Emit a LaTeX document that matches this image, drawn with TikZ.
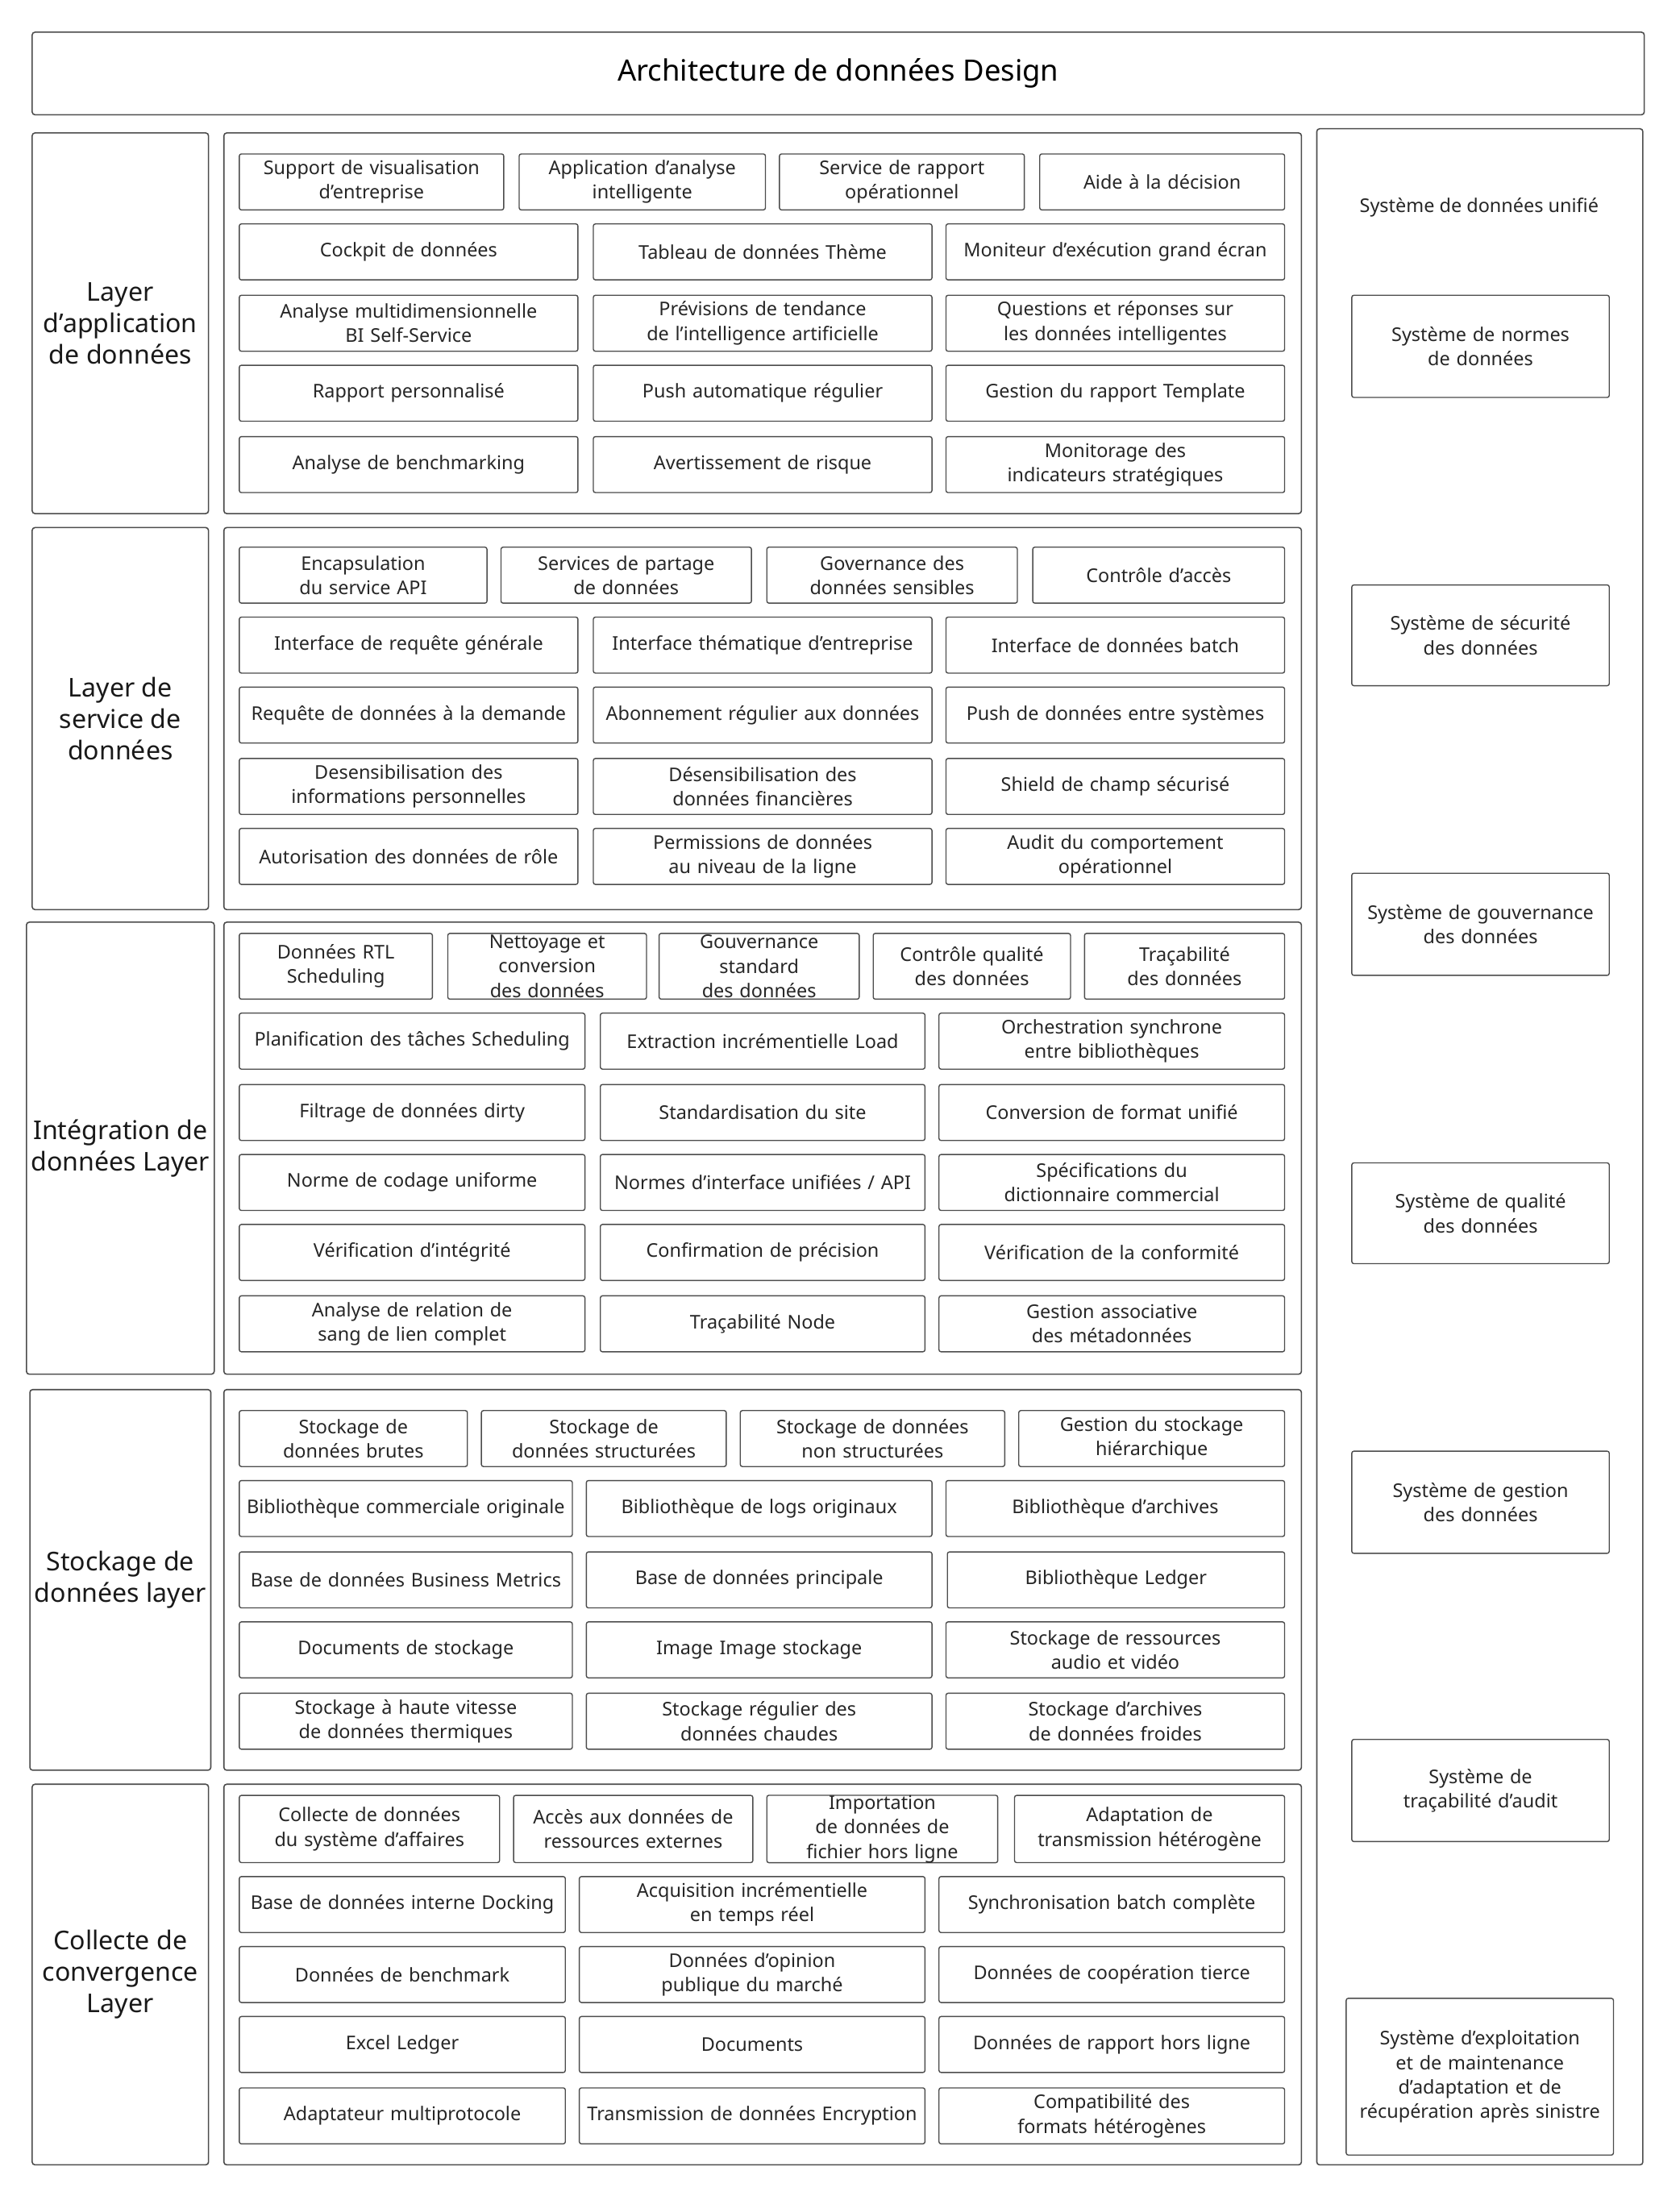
\documentclass[tikz,border=0pt]{standalone}
\usepackage{fontspec}
\setmainfont{Noto Sans}
\hyphenpenalty=10000
\exhyphenpenalty=10000
\begin{document}
\begin{tikzpicture}[x=1pt,y=-1pt,
  frame/.style={draw=black!70,line width=0.9pt,rounded corners=2pt},
  cell/.style={draw=black!70,line width=0.8pt,rounded corners=1.5pt,align=center,inner sep=0pt,
    font={\fontsize{13.5}{17.5}\selectfont\hyphenpenalty=10000\relax},text=black!85},
  lbl/.style={align=center,font=\fontsize{18.5}{22.5}\selectfont,text=black!90}]
\newcommand\bx[6]{\node[cell,minimum width={#4-#2},minimum height={#5-#3},text width={#4-#2-10}] (#1) at ({(#2+#4)/2},{(#3+#5)/2}) {#6};}
\newcommand\fr[6]{\node[#6,frame,minimum width={#4-#2},minimum height={#5-#3},inner sep=0pt] (#1) at ({(#2+#4)/2},{(#3+#5)/2}) {};}
\useasboundingbox[fill=white] (0,0) rectangle (1200,1575);
% title
\node[frame,minimum width=1152,minimum height=59,font=\fontsize{21}{26}\selectfont] (title) at (599,52.5) {Architecture de données Design};
% left labels
\node[frame,lbl,minimum width=126,minimum height=272] (L1) at (86,231) {Layer\\d'application\\de données};
\node[frame,lbl,minimum width=126,minimum height=273] (L2) at (86,513.5) {Layer de\\service de\\données};
\node[frame,lbl,minimum width=126,minimum height=323] (L3) at (86,820.5) {Intégration de\\données Layer};
\node[frame,lbl,minimum width=126,minimum height=272] (L4) at (86,1129) {Stockage de\\données layer};
\node[frame,lbl,minimum width=126,minimum height=272] (L5) at (86,1411) {Collecte de\\convergence\\Layer};
% middle containers
\fr{M1}{160}{95}{930}{367}{}
\fr{M2}{160}{377}{930}{650}{}
\fr{M3}{160}{659}{930}{982}{}
\fr{M4}{160}{993}{930}{1265}{}
\fr{M5}{160}{1275}{930}{1547}{}
% right
\fr{R}{941}{92}{1174}{1547}{}
\node[font=\fontsize{13.5}{17.5}\selectfont,text=black!85] (r0) at (1057,148) {Système de données unifié};
\bx{r1}{966}{211}{1150}{284}{Système de normes de données}
\bx{r2}{966}{418}{1150}{490}{Système de sécurité des données}
\bx{r3}{966}{624}{1150}{697}{Système de gouvernance des données}
\bx{r4}{966}{831}{1150}{903}{Système de qualité des données}
\bx{r5}{966}{1037}{1150}{1110}{Système de gestion des données}
\bx{r6}{966}{1243}{1150}{1316}{Système de traçabilité d'audit}
\bx{r7}{962}{1428}{1153}{1540}{Système d'exploitation et de maintenance d'adaptation et de récupération après sinistre}
% section 1
\bx{a1}{171}{110}{360}{150}{Support de visualisation d'entreprise}
\bx{a2}{371}{110}{547}{150}{Application d'analyse intelligente}
\bx{a3}{557}{110}{732}{150}{Service de rapport opérationnel}
\bx{a4}{743}{110}{918}{150}{Aide à la décision}
\bx{a5}{171}{160}{413}{200}{Cockpit de données}
\bx{a6}{424}{160}{666}{200}{Tableau de données Thème}
\bx{a7}{676}{160}{918}{200}{Moniteur d'exécution grand écran}
\bx{a8}{171}{211}{413}{251}{Analyse multidimensionnelle BI Self-Service}
\bx{a9}{424}{211}{666}{251}{Prévisions de tendance de l'intelligence artificielle}
\bx{a10}{676}{211}{918}{251}{Questions et réponses sur les données intelligentes}
\bx{a11}{171}{261}{413}{301}{Rapport personnalisé}
\bx{a12}{424}{261}{666}{301}{Push automatique régulier}
\bx{a13}{676}{261}{918}{301}{Gestion du rapport Template}
\bx{a14}{171}{312}{413}{352}{Analyse de benchmarking}
\bx{a15}{424}{312}{666}{352}{Avertissement de risque}
\bx{a16}{676}{312}{918}{352}{Monitorage des indicateurs stratégiques}
% section 2
\bx{b1}{171}{391}{348}{431}{Encapsulation du service API}
\bx{b2}{358}{391}{537}{431}{Services de partage de données}
\bx{b3}{548}{391}{727}{431}{Governance des données sensibles}
\bx{b4}{738}{391}{918}{431}{Contrôle d'accès}
\bx{b5}{171}{441}{413}{481}{Interface de requête générale}
\bx{b6}{424}{441}{666}{481}{Interface thématique d'entreprise}
\bx{b7}{676}{441}{918}{481}{Interface de données batch}
\bx{b8}{171}{491}{413}{531}{Requête de données à la demande}
\bx{b9}{424}{491}{666}{531}{Abonnement régulier aux données}
\bx{b10}{676}{491}{918}{531}{Push de données entre systèmes}
\bx{b11}{171}{542}{413}{582}{Desensibilisation des informations personnelles}
\bx{b12}{424}{542}{666}{582}{Désensibilisation des données financières}
\bx{b13}{676}{542}{918}{582}{Shield de champ sécurisé}
\bx{b14}{171}{592}{413}{632}{Autorisation des données de rôle}
\bx{b15}{424}{592}{666}{632}{Permissions de données au niveau de la ligne}
\bx{b16}{676}{592}{918}{632}{Audit du comportement opérationnel}
% section 3
\bx{c1}{171}{667}{309}{714}{Données RTL Scheduling}
\bx{c2}{320}{667}{462}{714}{Nettoyage et conversion des données}
\bx{c3}{471}{667}{614}{714}{Gouvernance standard des données}
\bx{c4}{624}{667}{765}{714}{Contrôle qualité des données}
\bx{c5}{775}{667}{918}{714}{Traçabilité des données}
\bx{c6}{171}{724}{418}{764}{Planification des tâches Scheduling}
\bx{c7}{429}{724}{661}{764}{Extraction incrémentielle Load}
\bx{c8}{671}{724}{918}{764}{Orchestration synchrone entre bibliothèques}
\bx{c9}{171}{775}{418}{815}{Filtrage de données dirty}
\bx{c10}{429}{775}{661}{815}{Standardisation du site}
\bx{c11}{671}{775}{918}{815}{Conversion de format unifié}
\bx{c12}{171}{825}{418}{865}{Norme de codage uniforme}
\bx{c13}{429}{825}{661}{865}{Normes d'interface unifiées / API}
\bx{c14}{671}{825}{918}{865}{Spécifications du dictionnaire commercial}
\bx{c15}{171}{875}{418}{915}{Vérification d'intégrité}
\bx{c16}{429}{875}{661}{915}{Confirmation de précision}
\bx{c17}{671}{875}{918}{915}{Vérification de la conformité}
\bx{c18}{171}{926}{418}{966}{Analyse de relation de sang de lien complet}
\bx{c19}{429}{926}{661}{966}{Traçabilité Node}
\bx{c20}{671}{926}{918}{966}{Gestion associative des métadonnées}
% section 4
\bx{d1}{171}{1008}{334}{1048}{Stockage de données brutes}
\bx{d2}{344}{1008}{519}{1048}{Stockage de données structurées}
\bx{d3}{529}{1008}{718}{1048}{Stockage de données non structurées}
\bx{d4}{728}{1008}{918}{1048}{Gestion du stockage hiérarchique}
\bx{d5}{171}{1058}{409}{1098}{Bibliothèque commerciale originale}
\bx{d6}{419}{1058}{666}{1098}{Bibliothèque de logs originaux}
\bx{d7}{676}{1058}{918}{1098}{Bibliothèque d'archives}
\bx{d8}{171}{1109}{409}{1149}{Base de données Business Metrics}
\bx{d9}{419}{1109}{666}{1149}{Base de données principale}
\bx{d10}{677}{1109}{918}{1149}{Bibliothèque Ledger}
\bx{d11}{171}{1159}{409}{1199}{Documents de stockage}
\bx{d12}{419}{1159}{666}{1199}{Image Image stockage}
\bx{d13}{676}{1159}{918}{1199}{Stockage de ressources audio et vidéo}
\bx{d14}{171}{1210}{409}{1250}{Stockage à haute vitesse de données thermiques}
\bx{d15}{419}{1210}{666}{1250}{Stockage régulier des données chaudes}
\bx{d16}{676}{1210}{918}{1250}{Stockage d'archives de données froides}
% section 5
\bx{e1}{171}{1283}{357}{1331}{Collecte de données du système d'affaires}
\bx{e2}{367}{1283}{538}{1331}{Accès aux données de ressources externes}
\bx{e3}{548}{1283}{713}{1331}{Importation de données de fichier hors ligne}
\bx{e4}{725}{1283}{918}{1331}{Adaptation de transmission hétérogène}
\bx{e5}{171}{1341}{404}{1381}{Base de données interne Docking}
\bx{e6}{414}{1341}{661}{1381}{Acquisition incrémentielle en temps réel}
\bx{e7}{671}{1341}{918}{1381}{Synchronisation batch complète}
\bx{e8}{171}{1391}{404}{1431}{Données de benchmark}
\bx{e9}{414}{1391}{661}{1431}{Données d'opinion publique du marché}
\bx{e10}{671}{1391}{918}{1431}{Données de coopération tierce}
\bx{e11}{171}{1441}{404}{1481}{Excel Ledger}
\bx{e12}{414}{1441}{661}{1481}{Documents}
\bx{e13}{671}{1441}{918}{1481}{Données de rapport hors ligne}
\bx{e14}{171}{1492}{404}{1532}{Adaptateur multiprotocole}
\bx{e15}{414}{1492}{661}{1532}{Transmission de données Encryption}
\bx{e16}{671}{1492}{918}{1532}{Compatibilité des formats hétérogènes}
\end{tikzpicture}
\end{document}
